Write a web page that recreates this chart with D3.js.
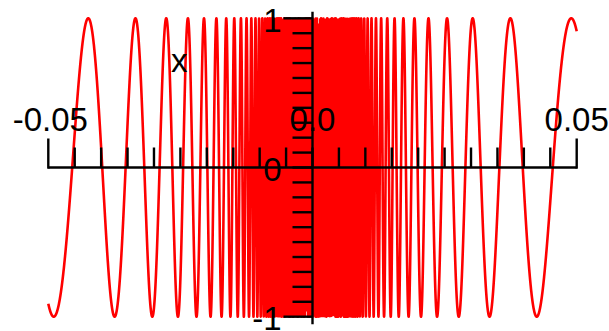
<!DOCTYPE html>
<html>
<head>
<meta charset="utf-8">
<script src="https://cdn.jsdelivr.net/npm/d3@7"></script>
<style>
  body { margin: 0; background: #fff; }
  svg { display: block; font-family: "Liberation Sans", Arial, sans-serif; }
</style>
</head>
<body>
<div id="chart"></div>
<script>
// plotted expression: y = sin(1/x) on [-0.05, 0.05]
const xDomain = [-0.05, 0.05];
const yDomain = [-1, 1];
const xMinorTicks = d3.range(-45, 50, 5).map(d => d / 1000);   // every 0.005
const xMajorTicks = [-0.05, 0.05];
const xLabels = [{v: -0.05, t: "-0.05"}, {v: 0, t: "0.0"}, {v: 0.05, t: "0.05"}];
const yMinorTicks = d3.range(-9, 10).map(d => d / 10);          // every 0.1
const yMajorTicks = [-1, 1];
const yLabels = [{v: 1, t: "1"}, {v: 0, t: "0"}, {v: -1, t: "-1"}];
const sampleStep = 0.00001;
const f = x => Math.sin(1 / x);

const width = 609, height = 331;
const fontSize = 33;

const svg = d3.select("#chart").append("svg")
    .attr("width", width)
    .attr("height", height);

const x = d3.scaleLinear().domain(xDomain).range([48.3, 576.7]);
const y = d3.scaleLinear().domain(yDomain).range([316.7, 18.3]);

// curve samples
const xs = d3.range(xDomain[0], xDomain[1] + sampleStep / 2, sampleStep)
    .filter(v => Math.abs(v) > 1e-12);
const line = d3.line()
    .x(d => x(d))
    .y(d => y(f(d)));

svg.append("path")
    .datum(xs)
    .attr("d", line)
    .attr("fill", "none")
    .attr("stroke", "#ff0000")
    .attr("stroke-width", 2.6)
    .attr("stroke-linejoin", "round");

// x axis (ticks point upward)
const x0 = y(0);
const gx = svg.append("g").attr("stroke", "#000").attr("stroke-width", 2.4);
gx.append("line")
    .attr("x1", x(xDomain[0])).attr("x2", x(xDomain[1]))
    .attr("y1", x0).attr("y2", x0);
gx.selectAll(".minor").data(xMinorTicks).join("line")
    .attr("class", "minor")
    .attr("x1", d => x(d)).attr("x2", d => x(d))
    .attr("y1", x0).attr("y2", x0 - 20);
gx.selectAll(".major").data(xMajorTicks).join("line")
    .attr("class", "major")
    .attr("x1", d => x(d)).attr("x2", d => x(d))
    .attr("y1", x0 + 1.2).attr("y2", x0 - 29);

// y axis (ticks point left)
const y0 = x(0);
const gy = svg.append("g").attr("stroke", "#000").attr("stroke-width", 2.4);
gy.append("line")
    .attr("x1", y0).attr("x2", y0)
    .attr("y1", y(yDomain[1]) - 6.5).attr("y2", y(yDomain[0]) + 7.5);
gy.selectAll(".minor").data(yMinorTicks).join("line")
    .attr("class", "minor")
    .attr("x1", y0).attr("x2", y0 - 20)
    .attr("y1", d => y(d)).attr("y2", d => y(d));
gy.selectAll(".major").data(yMajorTicks).join("line")
    .attr("class", "major")
    .attr("x1", y0).attr("x2", y0 - 29)
    .attr("y1", d => y(d)).attr("y2", d => y(d));

// labels
svg.selectAll(".xlab").data(xLabels).join("text")
    .attr("class", "xlab")
    .attr("x", d => x(d.v) + (d.v < 0 ? 2 : 0))
    .attr("y", x0 - 36.5)
    .attr("text-anchor", "middle")
    .attr("font-size", fontSize)
    .text(d => d.t);

svg.selectAll(".ylab").data(yLabels).join("text")
    .attr("class", "ylab")
    .attr("x", y0 - 31)
    .attr("y", d => y(d.v) + 13.7)
    .attr("text-anchor", "end")
    .attr("font-size", fontSize)
    .text(d => d.t);

svg.append("text")
    .attr("x", 179.3)
    .attr("y", 72)
    .attr("text-anchor", "middle")
    .attr("font-size", fontSize)
    .text("x");
</script>
</body>
</html>
